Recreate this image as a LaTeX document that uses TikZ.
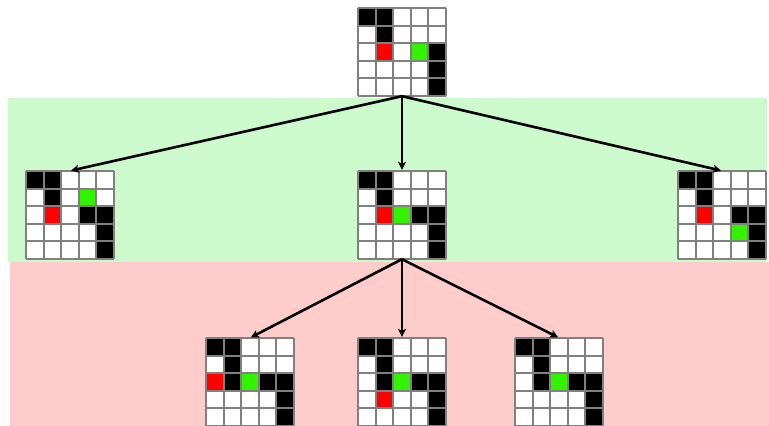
\documentclass[tikz,border=0pt]{standalone}
\usetikzlibrary{arrows.meta}
\definecolor{bandgreen}{HTML}{CCFACC}
\definecolor{bandpink}{HTML}{FFCCCC}
\definecolor{cellred}{HTML}{FF0000}
\definecolor{cellgreen}{HTML}{33F200}
\definecolor{gridgray}{HTML}{808080}
\tikzset{
  gridbox/.style={rectangle, minimum width=88pt, minimum height=88pt, inner sep=0pt, fill=white},
  gridline/.style={draw=gridgray, line width=2pt},
  treearrow/.style={draw=black, line width=2.6pt, shorten >=1pt, -{Stealth[length=8pt,width=8pt,inset=2pt]}},
}
\newcommand{\mazegrid}[4]{%
  \node[gridbox] (#1) at (#2+44,#3+44) {};
  \begin{scope}[shift={(#2,#3)}]
    \foreach \cc/\rr/\col in {#4}
      \fill[\col] (\cc*17.6,\rr*17.6) rectangle ++(17.6,17.6);
    \foreach \k in {0,...,5} {
      \draw[gridline] (\k*17.6,0) -- (\k*17.6,88);
      \draw[gridline] (0,\k*17.6) -- (88,\k*17.6);
    }
  \end{scope}
}
\begin{document}
\begin{tikzpicture}[x=1pt,y=-1pt]
\useasboundingbox (0,0) rectangle (769,426);
\fill[bandgreen] (8,98) rectangle (767,262);
\fill[bandpink] (10,262) rectangle (769,426);

\mazegrid{top}{358}{8}{0/0/black,1/0/black,1/1/black,4/2/black,4/3/black,4/4/black,1/2/cellred,3/2/cellgreen}
\mazegrid{midleft}{26}{171}{0/0/black,1/0/black,1/1/black,3/2/black,4/2/black,4/3/black,4/4/black,1/2/cellred,3/1/cellgreen}
\mazegrid{midcenter}{358}{171}{0/0/black,1/0/black,1/1/black,3/2/black,4/2/black,4/3/black,4/4/black,1/2/cellred,2/2/cellgreen}
\mazegrid{midright}{678}{171}{0/0/black,1/0/black,1/1/black,3/2/black,4/2/black,4/3/black,4/4/black,1/2/cellred,3/3/cellgreen}
\mazegrid{botleft}{206}{338}{0/0/black,1/0/black,1/1/black,1/2/black,3/2/black,4/2/black,4/3/black,4/4/black,0/2/cellred,2/2/cellgreen}
\mazegrid{botcenter}{358}{338}{0/0/black,1/0/black,1/1/black,1/2/black,3/2/black,4/2/black,4/3/black,4/4/black,1/3/cellred,2/2/cellgreen}
\mazegrid{botright}{515}{338}{0/0/black,1/0/black,1/1/black,1/2/black,3/2/black,4/2/black,4/3/black,4/4/black,2/2/cellgreen}

\draw[treearrow] (top.south) -- (midleft.north);
\draw[treearrow] (top.south) -- (midcenter.north);
\draw[treearrow] (top.south) -- (midright.north);
\draw[treearrow] (midcenter.south) -- (botleft.north);
\draw[treearrow] (midcenter.south) -- (botcenter.north);
\draw[treearrow] (midcenter.south) -- (botright.north);
\end{tikzpicture}
\end{document}
